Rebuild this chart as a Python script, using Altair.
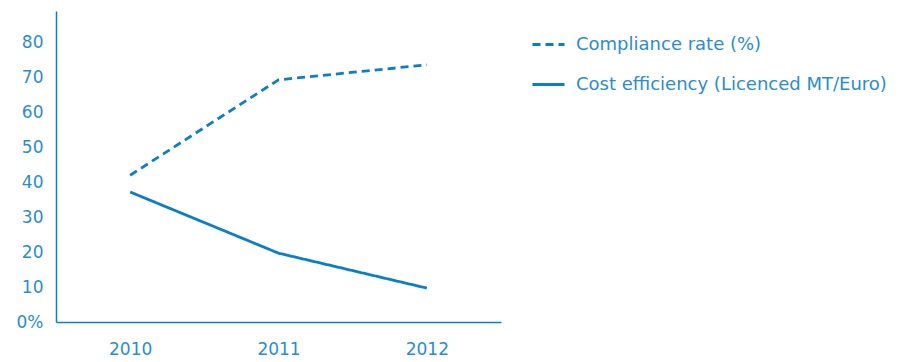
import altair as alt
import pandas as pd

years = ["2010", "2011", "2012"]
compliance = [42.0, 69.3, 73.6]
cost_eff = [37.2, 19.7, 9.7]
series_names = ["Compliance rate (%)", "Cost efficiency (Licenced MT/Euro)"]
y_ticks = [0, 10, 20, 30, 40, 50, 60, 70, 80]

rows = []
for yr, v in zip(years, compliance):
    rows.append({"year": yr, "value": v, "series": series_names[0]})
for yr, v in zip(years, cost_eff):
    rows.append({"year": yr, "value": v, "series": series_names[1]})
df = pd.DataFrame(rows)

LINE = "#0a7fc6"
TEXT = "#2a8dd0"
FONT = "DejaVu Sans"

chart = alt.Chart(df).mark_line(strokeWidth=2.8, color=LINE).encode(
    x=alt.X("year:O", scale=alt.Scale(type="point", padding=0.5),
            axis=alt.Axis(title=None, labelAngle=0, ticks=False, grid=False,
                          domainColor=LINE, domainWidth=1.5,
                          labelColor=TEXT, labelFont=FONT, labelFontSize=17,
                          labelPadding=19)),
    y=alt.Y("value:Q", scale=alt.Scale(domain=[0, 89], nice=False),
            axis=alt.Axis(title=None, values=y_ticks, ticks=False, grid=False,
                          domainColor=LINE, domainWidth=1.5,
                          labelExpr="datum.value == 0 ? '0%' : datum.label",
                          labelColor=TEXT, labelFont=FONT, labelFontSize=17,
                          labelPadding=13)),
    strokeDash=alt.StrokeDash("series:N",
                              scale=alt.Scale(domain=series_names, range=[[8, 5], [1, 0]]),
                              legend=alt.Legend(title=None, orient="none",
                                                legendX=475, legendY=16,
                                                symbolType="stroke", symbolSize=1024,
                                                symbolStrokeColor=LINE, symbolStrokeWidth=2.8,
                                                labelColor=TEXT, labelFont=FONT, labelFontSize=18,
                                                labelOffset=10, rowPadding=13, padding=0,
                                                labelLimit=400)),
).properties(
    width=445, height=311,
    autosize=alt.AutoSizeParams(type="none"),
    padding={"left": 56, "top": 11, "right": 404, "bottom": 40},
).configure(background="white").configure_view(stroke=None)

chart.save("out.html", embed_options={"renderer": "svg", "actions": False})
